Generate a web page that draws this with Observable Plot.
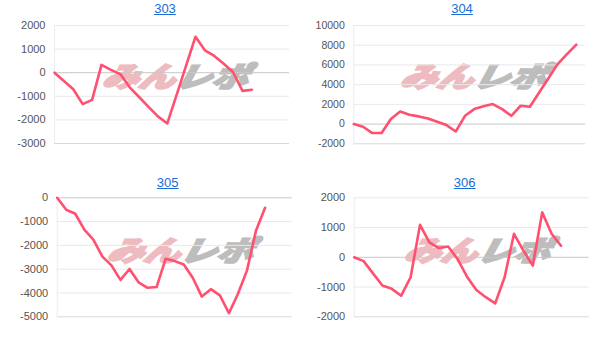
<!DOCTYPE html>
<html><head><meta charset="utf-8">
<script src="https://cdn.jsdelivr.net/npm/d3@7"></script>
<script src="https://cdn.jsdelivr.net/npm/@observablehq/plot@0.6"></script>
<style>
body{margin:0;background:#fff;}
#root{position:relative;width:614px;height:348px;overflow:hidden;font-family:Arial,"Liberation Sans",sans-serif;}
.panel{position:absolute;width:307px;height:174px;}
.panel svg{position:absolute;left:0;top:0;}
.title{position:absolute;top:1px;font-size:13px;line-height:15px;color:#1a6ed8;text-decoration:underline;transform:translateX(-50%);white-space:nowrap;}
.wm{position:absolute;font-family:"Noto Sans CJK JP",sans-serif;font-weight:900;font-style:italic;font-size:28px;line-height:28px;white-space:nowrap;transform-origin:0 0;transform:scaleX(1.3) skewX(-10deg);}
.wm .a{color:#eebcc0;-webkit-text-stroke:2px #eebcc0;}
.wm .b{color:#bdbdbd;-webkit-text-stroke:2px #bdbdbd;}
</style>
</head><body>
<div id="root"></div>
<script>
// ---- data ----
const titles = ["303", "304", "305", "306"];
const values303 = [0, -350, -700, -1330, -1150, 330, 120, -60, -620, -1030, -1450, -1850, -2150, -925, 300, 1525, 950, 710, 380, 20, -770, -720];
const values304 = [0, -270, -910, -910, 510, 1280, 950, 780, 570, 230, -100, -750, 840, 1520, 1800, 2030, 1520, 840, 1860, 1750, 3200, 4650, 6090, 7100, 8050];
const values305 = [0, -500, -670, -1340, -1760, -2470, -2840, -3450, -2990, -3550, -3780, -3750, -2560, -2660, -2800, -3360, -4150, -3840, -4100, -4850, -4030, -3050, -1370, -420];
const values306 = [0, -130, -540, -950, -1060, -1290, -670, 1090, 500, 310, 360, -60, -650, -1100, -1340, -1550, -670, 790, 225, -280, 1510, 790, 390];
const ticks303 = [-3000, -2000, -1000, 0, 1000, 2000];
const ticks304 = [-2000, 0, 2000, 4000, 6000, 8000, 10000];
const ticks305 = [-5000, -4000, -3000, -2000, -1000, 0];
const ticks306 = [-2000, -1000, 0, 1000, 2000];
const watermarkA = "みん";
const watermarkB = "レポ";

// ---- layout ----
const panels = [
  {title: titles[0], values: values303, ticks: ticks303, xMax: 25, left: 0, top: 0, m: [25, 18, 31, 54], titleX: 165, wmX: 107, fs: 11},
  {title: titles[1], values: values304, ticks: ticks304, xMax: 25, left: 307, top: 0, m: [25, 29, 30.7, 46.3], titleX: 155, wmX: 98, fs: 10.5},
  {title: titles[2], values: values305, ticks: ticks305, xMax: 26, left: 0, top: 174, m: [23.3, 15.3, 31.7, 56.7], titleX: 167.7, wmX: 112, fs: 11},
  {title: titles[3], values: values306, ticks: ticks306, xMax: 25, left: 307, top: 174, m: [23.3, 25.3, 31.7, 46.7], titleX: 157.7, wmX: 102, fs: 11}
];

const root = document.getElementById("root");
for (const p of panels) {
  const div = document.createElement("div");
  div.className = "panel";
  div.style.left = p.left + "px";
  div.style.top = p.top + "px";

  const wm = document.createElement("div");
  wm.className = "wm";
  wm.style.left = p.wmX + "px";
  wm.style.top = "61px";
  wm.innerHTML = `<span class="a">${watermarkA}</span><span class="b">${watermarkB}</span>`;
  div.appendChild(wm);

  const yMin = d3.min(p.ticks), yMax = d3.max(p.ticks);
  const inner = p.ticks.filter(t => t !== 0 && t !== yMin);
  const chart = Plot.plot({
    width: 307,
    height: 174,
    marginTop: p.m[0], marginRight: p.m[1], marginBottom: p.m[2], marginLeft: p.m[3],
    style: {background: "transparent", overflow: "visible", fontSize: p.fs + "px", fontFamily: "Arial, 'Liberation Sans', sans-serif", color: "#555"},
    x: {domain: [0, p.xMax], axis: null},
    y: {domain: [yMin, yMax], axis: null},
    marks: [
      Plot.ruleY(inner, {stroke: "#e9e9e9", strokeWidth: 1}),
      Plot.ruleY([yMin], {stroke: "#d9d9d9", strokeWidth: 1}),
      Plot.ruleX([0], {stroke: "#ececec", strokeWidth: 1}),
      Plot.ruleY([0], {stroke: "#c8c8c8", strokeWidth: 1}),
      Plot.axisY({ticks: p.ticks, tickSize: 0, tickPadding: 9, tickFormat: d => String(d)}),
      Plot.line(p.values, {x: (d, i) => i, y: d => d, stroke: "#ff5070", strokeWidth: 2.6, strokeLinejoin: "round"})
    ]
  });
  div.appendChild(chart);

  const t = document.createElement("a");
  t.className = "title";
  t.href = "#";
  t.textContent = p.title;
  t.style.left = p.titleX + "px";
  div.appendChild(t);

  root.appendChild(div);
}
</script>
</body></html>
